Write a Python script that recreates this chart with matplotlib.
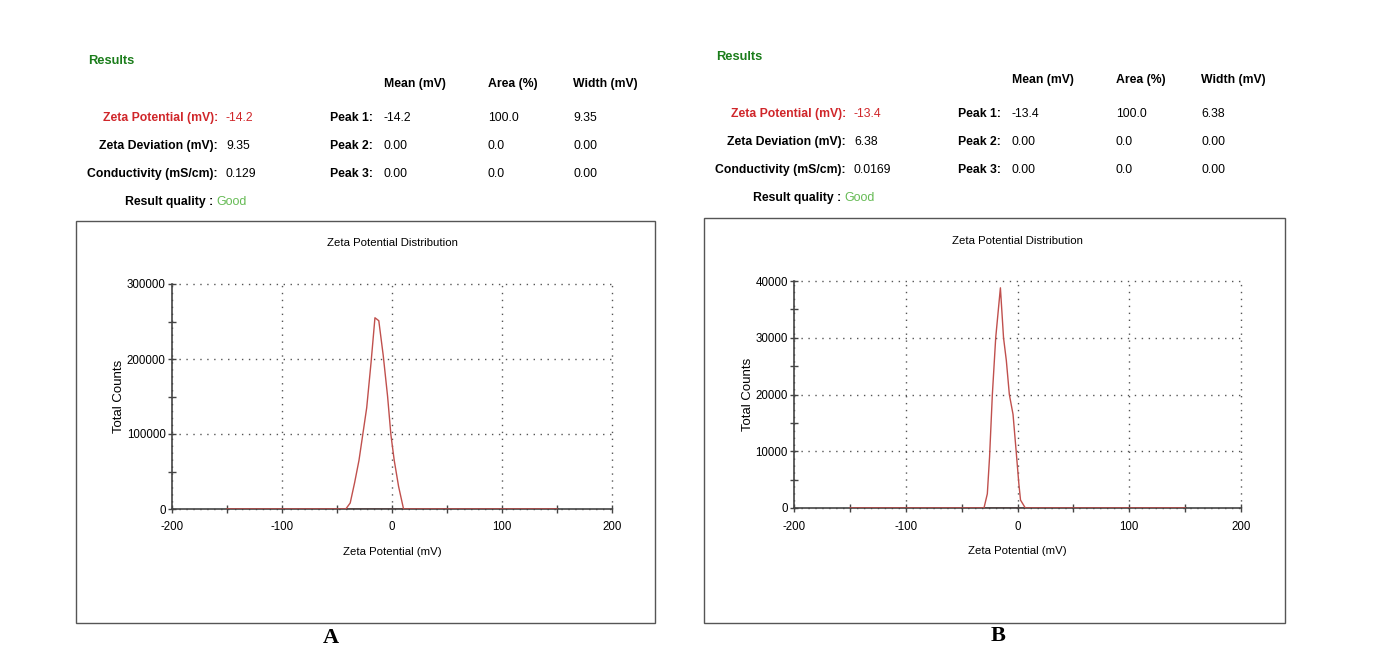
import matplotlib.pyplot as plt
from matplotlib.patches import Rectangle
from matplotlib.ticker import MultipleLocator

# ---- data ----
zeta_a = [-150, -42, -38, -34, -30, -27, -23, -19, -15.5, -12, -8, -4, -1, 2, 6, 10.5, 150]
counts_a = [0, 0, 8000, 35000, 65000, 95000, 135000, 196000, 255000, 251000,
            205000, 150000, 99000, 65000, 30000, 0, 0]

zeta_b = [-150, -30, -27, -25, -22.5, -19.5, -15.3, -12.5, -10, -7.3, -4, -1.2, 1.2, 2.7, 7, 150]
counts_b = [0, 0, 2500, 9000, 20000, 30000, 38800, 30000, 26000, 20000,
            16500, 10000, 4300, 1400, 0, 0]

row_labels = ['Zeta Potential (mV):', 'Zeta Deviation (mV):', 'Conductivity (mS/cm):']
vals_a = ['-14.2', '9.35', '0.129']
vals_b = ['-13.4', '6.38', '0.0169']
col_heads = ['Mean (mV)', 'Area (%)', 'Width (mV)']
peaks = ['Peak 1:', 'Peak 2:', 'Peak 3:']
peak_a = [['-14.2', '100.0', '9.35'], ['0.00', '0.0', '0.00'], ['0.00', '0.0', '0.00']]
peak_b = [['-13.4', '100.0', '6.38'], ['0.00', '0.0', '0.00'], ['0.00', '0.0', '0.00']]

W, H = 1373, 662
SANS = ['Liberation Sans', 'DejaVu Sans']
RED = '#d0262a'
LINE_RED = '#c0504d'

fig = plt.figure(figsize=(W / 100, H / 100), dpi=100)


def px(x, y):
    return x / W, 1 - y / H


def header(dx, dy, vals, peak_vals):
    def t(x, y, s, **kw):
        kw.setdefault('fontsize', 8.8)
        fx, fy = px(x + dx, y + dy)
        fig.text(fx, fy, s, va='center', family=SANS, **kw)

    t(88, 61, 'Results', color='#1b7d1b', weight='bold', fontsize=9.3)
    for i, h in enumerate(col_heads):
        t([384, 488, 573][i], 84, h, weight='bold')
    for r in range(3):
        y = [118, 146, 174][r]
        c = RED if r == 0 else 'black'
        t(218, y, row_labels[r], ha='right', weight='bold', color=c)
        t(226, y, vals[r], color=c)
        t(373, y, peaks[r], ha='right', weight='bold')
        for k in range(3):
            t([384, 488, 573][k], y, peak_vals[r][k])
    t(213, 202, 'Result quality :', ha='right', weight='bold', fontsize=8.8)
    t(216, 202, 'Good', color='#66bb55', fontsize=9)


def panel(box, ax_px, x, y, ymax, ystep, label, label_xy):
    bx0, by0, bx1, by1 = box
    fig.patches.append(Rectangle(px(bx0, by1), (bx1 - bx0) / W, (by1 - by0) / H,
                                 transform=fig.transFigure, fill=False,
                                 edgecolor='#555555', lw=1.0))
    l, t_, r, b = ax_px
    ax = fig.add_axes([l / W, 1 - b / H, (r - l) / W, (b - t_) / H])
    ax.plot(x, y, color=LINE_RED, lw=1.0, zorder=3)
    ax.plot([x[0], x[-1]], [0, 0], color=LINE_RED, lw=2.0, zorder=2.5)
    ax.set_xlim(-200, 200)
    ax.set_ylim(0, ymax)
    ax.xaxis.set_major_locator(MultipleLocator(100))
    ax.xaxis.set_minor_locator(MultipleLocator(50))
    ax.yaxis.set_major_locator(MultipleLocator(ystep))
    ax.yaxis.set_minor_locator(MultipleLocator(ystep / 2))
    ax.grid(True, which='major', color='#555555', lw=1.0, linestyle=(0, (1, 4)))
    for gl in ax.get_xgridlines() + ax.get_ygridlines():
        gl.set_clip_on(False)
    for s in ['top', 'right']:
        ax.spines[s].set_visible(False)
    for s in ['left', 'bottom']:
        ax.spines[s].set_color('#444444')
        ax.spines[s].set_linewidth(1.2)
    ax.tick_params(which='both', direction='inout', length=6, width=1, color='#444444')
    ax.tick_params(axis='x', labelsize=8.3, pad=6)
    ax.tick_params(axis='y', labelsize=8.3, pad=1.5)
    ax.xaxis.set_major_formatter(lambda v, pos: str(int(v)))
    ax.yaxis.set_major_formatter(lambda v, pos: str(int(v)))
    for lab in ax.get_xticklabels() + ax.get_yticklabels():
        lab.set_family(SANS)
    ax.set_xlabel('Zeta Potential (mV)', family=SANS, fontsize=8.2, labelpad=10)
    ax.set_ylabel('Total Counts', family=SANS, fontsize=9.5, labelpad=1)
    ax.set_title('Zeta Potential Distribution', family=SANS, fontsize=8.2, pad=27)
    fx, fy = px(*label_xy)
    fig.text(fx, fy, label, ha='center', va='center', weight='bold', fontsize=16,
             family=['Liberation Serif', 'DejaVu Serif'])
    return ax


header(0, 0, vals_a, peak_a)
header(628, -4, vals_b, peak_b)

panel((76, 221, 655, 623), (172, 284, 612, 509), zeta_a, counts_a, 300000, 100000, 'A', (331, 638))
panel((704, 218, 1285, 623), (794, 281, 1241, 508), zeta_b, counts_b, 40000, 10000, 'B', (998, 636))

fig.savefig('out.png', dpi=100)
